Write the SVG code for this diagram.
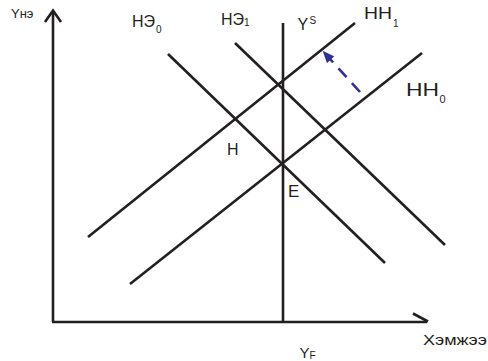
<svg xmlns="http://www.w3.org/2000/svg" width="488" height="361" viewBox="0 0 488 361">
<style>
.ln{stroke:#231f20;stroke-width:2.6;fill:none;stroke-linecap:butt}
.t{font-family:"Liberation Sans",Arial,sans-serif;fill:#231f20}
</style>
<defs>
<marker id="ah" viewBox="0 0 12 10" refX="1" refY="5" markerWidth="12" markerHeight="10" markerUnits="userSpaceOnUse" orient="auto">
<path d="M0,0 L12,5 L0,10 Z" fill="#2e3192"/>
</marker>
</defs>
<rect width="488" height="361" fill="#fff"/>
<g id="axes">
<line class="ln" x1="53" y1="322" x2="53" y2="11"/>
<polyline class="ln" points="45,22 53,10.5 61,22" stroke-width="3"/>
<line class="ln" x1="52" y1="322" x2="427" y2="322"/>
<line class="ln" x1="413" y1="313.5" x2="428" y2="321.5"/>
</g>
<g id="curves">
<line id="YS" class="ln" x1="283" y1="23" x2="283" y2="322"/>
<line id="HH1" class="ln" x1="88" y1="237" x2="355" y2="23"/>
<line id="HH0" class="ln" x1="130" y1="284" x2="422" y2="53"/>
<line id="NE0" class="ln" x1="168" y1="54" x2="385" y2="263"/>
<line id="NE1" class="ln" x1="235" y1="43" x2="445" y2="245"/>
</g>
<g id="connectors">
<line x1="360" y1="92" x2="330" y2="59" stroke="#2e3192" stroke-width="2.6" stroke-dasharray="12 8" marker-end="url(#ah)"/>
</g>
<g id="labels">
<text class="t" x="11" y="18" font-size="13">Yнэ</text>
<text class="t" x="132" y="27" font-size="16">НЭ</text>
<text class="t" x="156" y="33" font-size="10">0</text>
<text class="t" x="221" y="25" font-size="16">НЭ</text>
<text class="t" x="244" y="26" font-size="10">1</text>
<text class="t" x="297.5" y="30" font-size="16">Y</text>
<text class="t" x="309.5" y="24" font-size="10">S</text>
<text class="t" x="364" y="19" font-size="17" textLength="28" lengthAdjust="spacingAndGlyphs">HH</text>
<text class="t" x="393" y="27" font-size="10">1</text>
<text class="t" x="406" y="96" font-size="18" textLength="33" lengthAdjust="spacingAndGlyphs">HH</text>
<text class="t" x="439.5" y="103" font-size="11">0</text>
<text class="t" x="227" y="155" font-size="16">H</text>
<text class="t" x="288" y="197" font-size="17">E</text>
<text class="t" x="423" y="345" font-size="14" textLength="64" lengthAdjust="spacingAndGlyphs">Хэмжээ</text>
<text class="t" x="299.5" y="358" font-size="15">Y</text>
<text class="t" x="309.5" y="359" font-size="10">F</text>
</g>
</svg>
